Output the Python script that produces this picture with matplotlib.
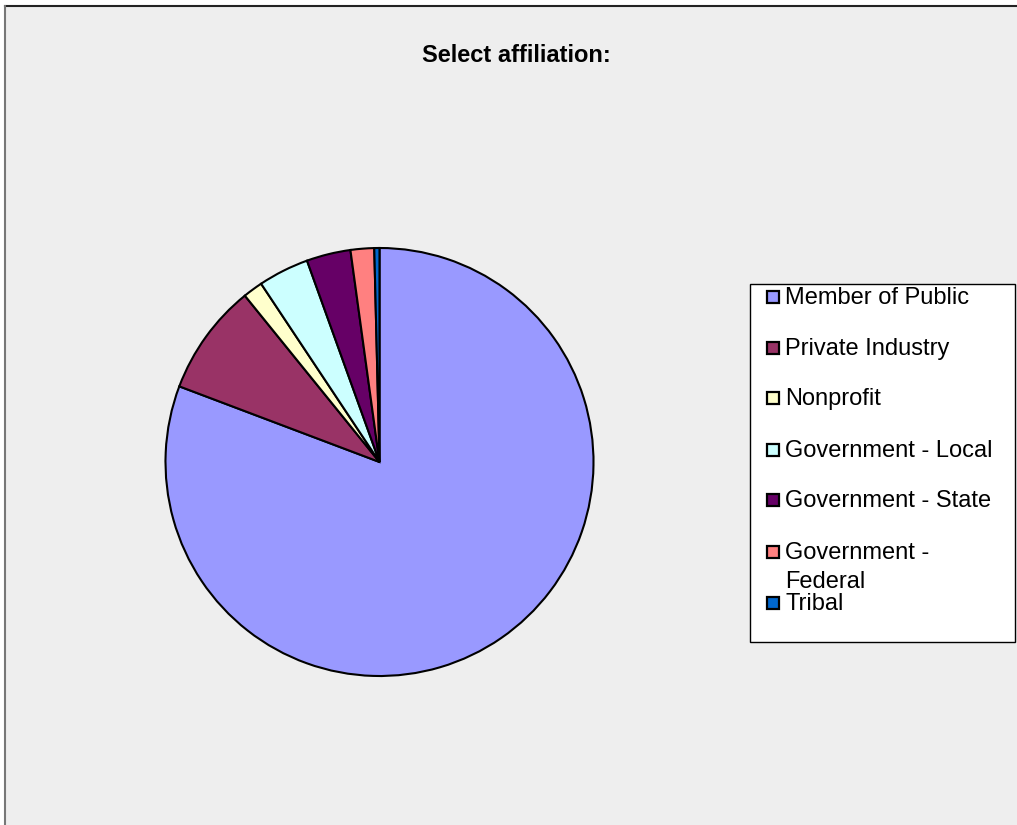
import matplotlib
matplotlib.use('Agg')
import matplotlib.pyplot as plt
import matplotlib.patches as patches
from matplotlib.lines import Line2D

plt.rcParams['font.family'] = ['Liberation Sans', 'DejaVu Sans']

# data
labels = ['Member of Public', 'Private Industry', 'Nonprofit', 'Government - Local',
          'Government - State', 'Government -\nFederal', 'Tribal']
shares = [80.75, 8.42, 1.50, 3.83, 3.33, 1.78, 0.39]
colors = ['#9999FF', '#993366', '#FFFFCC', '#CCFFFF', '#660066', '#FF8080', '#0066CC']

W, H = 1017, 825
fig = plt.figure(figsize=(W / 100, H / 100), dpi=100, facecolor='white')

def fx(px):
    return px / W

def fy(py):
    return 1 - py / H

# chart area background + border (top and left only visible)
fig.patches.append(patches.Rectangle((fx(5), 0), 1 - fx(5), fy(6), transform=fig.transFigure,
                                     facecolor='#EEEEEE', edgecolor='none', zorder=-10))
fig.lines.append(Line2D([fx(5), 1], [fy(6), fy(6)], transform=fig.transFigure,
                        color='#222222', lw=1.5, zorder=-5))
fig.lines.append(Line2D([fx(5), fx(5)], [fy(6), 0], transform=fig.transFigure,
                        color='#777777', lw=1.5, zorder=-5))

# title
fig.text(fx(516), fy(56), 'Select affiliation:', ha='center', va='center',
         fontsize=17, fontweight='bold')

# pie
cx, cy, r = 379.5, 462, 214
ax = fig.add_axes([fx(cx - r), fy(cy + r), (2 * r) / W, (2 * r) / H])
ax.set_zorder(5)
wedges, _ = ax.pie(shares, colors=colors, startangle=90, counterclock=False,
                   wedgeprops=dict(edgecolor='black', linewidth=1.5))
for w in wedges:
    w.set_clip_on(False)
ax.set_xlim(-1, 1)
ax.set_ylim(-1, 1)
ax.set_aspect('equal')
ax.axis('off')

# legend box
fig.patches.append(patches.Rectangle((fx(750), fy(642)), fx(1015) - fx(750), fy(284) - fy(642),
                                     transform=fig.transFigure, facecolor='white',
                                     edgecolor='black', lw=1.0, zorder=1))
row_y = [297, 348, 398, 450, 500, 552, 603]
for lab, col, y in zip(labels, colors, row_y):
    fig.patches.append(patches.Rectangle((fx(767), fy(y + 6)), 12 / W, 12 / H,
                                         transform=fig.transFigure, facecolor=col,
                                         edgecolor='black', lw=1.6, zorder=2))
    fig.text(fx(785), fy(y - 10), lab, ha='left', va='top', fontsize=17,
             linespacing=1.4, zorder=3)

fig.savefig('out.png', dpi=100, facecolor='white')
